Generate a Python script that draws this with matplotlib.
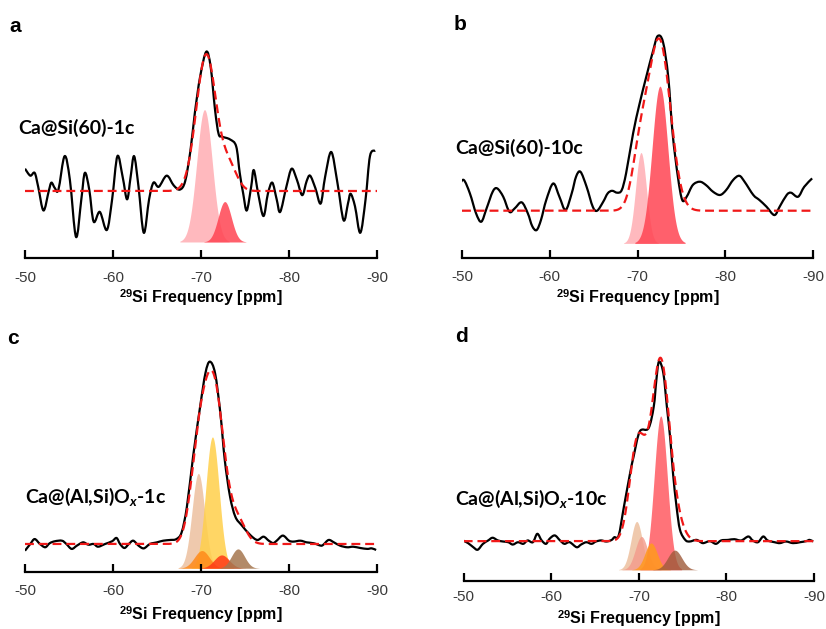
import numpy as np
import matplotlib
matplotlib.use("Agg")
import matplotlib.pyplot as plt
from matplotlib.path import Path
from matplotlib.patches import PathPatch

plt.rcParams['mathtext.fontset'] = 'custom'
plt.rcParams['mathtext.rm'] = 'Liberation Sans:bold'
plt.rcParams['mathtext.it'] = 'Lato:italic:bold'
plt.rcParams['mathtext.bf'] = 'Liberation Sans:bold'

# ---------------- data (ppm, intensity in a.u.) ----------------
ppm_a = [-50.0, -50.6, -51.1, -51.5, -52.1, -52.7, -53.0, -53.4, -53.8, -54.5, -55.1, -55.8, -56.4,
         -56.8, -57.3, -57.8, -58.5, -59.3, -59.9, -60.5, -61.1, -61.6, -62.0, -62.4, -62.9, -63.5,
         -64.1, -64.6, -65.2, -66.1, -66.9, -67.6, -68.2, -68.8, -69.3, -69.9, -70.6, -71.1, -71.6,
         -72.0, -72.4, -73.3, -74.0, -74.4, -74.8, -75.2, -75.7, -76.0, -76.5, -77.1, -77.6, -78.1,
         -78.6, -79.0, -79.7, -80.3, -80.9, -81.5, -82.0, -82.4, -83.0, -83.6, -84.1, -84.8, -85.5,
         -86.2, -86.7, -87.0, -87.5, -88.1, -88.7, -89.2, -89.8]
int_a = [16, 11, 13, 3, -14, 0, 6, 2, 1, 25, 8, -33, -6, 13, 1, -22, -15, -28, -6, 25, 10, -6, 10,
         25, 3, -30, -6, 6, 3, 11, 4, 1, 7, 29, 56, 82, 100, 89, 58, 41, 39, 37, 32, 13, -2, -14, 3,
         15, -2, -18, -2, 6, -6, -15, 3, 16, 8, -3, 7, 11, 2, -9, 10, 28, 6, -21, -9, -2, -11, -30,
         -6, 25, 29]

ppm_b = [-49.7, -50.2, -50.9, -51.6, -52.2, -52.8, -53.5, -54.0, -54.7, -55.4, -56.0, -56.8, -57.5,
         -58.0, -58.5, -59.0, -59.6, -60.4, -61.1, -61.8, -62.5, -63.0, -63.5, -64.2, -64.9, -65.4,
         -66.1, -66.6, -67.1, -67.7, -68.2, -68.7, -69.5, -70.2, -71.0, -71.8, -72.3, -72.9, -73.5,
         -74.0, -74.6, -75.1, -75.6, -76.3, -77.1, -77.8, -78.6, -79.4, -80.1, -80.9, -81.6, -82.2,
         -83.2, -83.9, -84.7, -85.6, -86.2, -87.0, -87.5, -88.3, -89.0, -89.9]
int_b = [14.7, 17.6, 9.9, -1.5, -6.3, 1.3, 10.9, 12.8, 8.0, -0.6, 1.3, 4.8, -1.5, -8.8, -11.1, -5.3,
         6.1, 15.6, 8.0, 0.4, 9.9, 19.5, 22.3, 13.7, 2.3, 0.0, 5.2, 9.9, 11.4, 10.3, 11.8, 21.4, 44.3,
         60.5, 76.7, 92.0, 100.0, 96.7, 76.7, 44.3, 19.5, 6.1, 8.0, 14.7, 16.6, 14.7, 10.9, 9.0, 11.8,
         17.6, 20.0, 16.6, 9.0, 6.1, 2.3, -2.5, 2.3, 9.0, 10.3, 8.0, 13.7, 18.5]

ppm_c = [-50.0, -50.6, -51.1, -51.7, -52.3, -52.8, -53.4, -54.2, -54.7, -55.3, -55.9, -56.6, -57.2,
         -57.8, -58.3, -59.1, -59.9, -60.4, -60.8, -61.3, -61.8, -62.3, -62.9, -63.5, -64.2, -65.0,
         -65.7, -66.5, -67.2, -67.8, -68.4, -69.1, -69.9, -70.5, -71.0, -71.6, -72.2, -72.7, -73.3,
         -73.9, -74.6, -75.6, -76.4, -77.1, -77.7, -78.2, -78.6, -79.3, -80.0, -80.5, -81.3, -82.0,
         -82.8, -83.6, -83.9, -84.5, -85.1, -85.8, -86.6, -87.3, -88.1, -88.9, -89.4, -89.9]
int_c = [-3.7, 0.0, 2.7, 0.0, -1.8, 0.4, 1.5, 1.8, 0.0, -2.7, -0.9, 0.9, -0.4, 0.0, -1.5, 0.0, 1.5,
         3.3, 0.0, -2.2, 0.0, 1.8, -0.9, -2.4, 0.0, 0.9, 1.8, 2.2, 2.7, 6.4, 20.5, 47.9, 75.3, 93.6,
         100.0, 93.6, 71.7, 46.1, 26.0, 15.0, 10.4, 4.9, 2.2, 4.0, 1.8, 0.5, 1.8, 4.6, 1.8, 1.3, 1.8,
         0.9, 0.4, -0.9, -0.4, 2.2, 0.9, -0.9, -1.8, -1.5, -2.2, -2.7, -2.4, -3.3]

ppm_d = [-49.9, -50.5, -51.1, -51.6, -52.2, -52.8, -53.3, -53.9, -54.5, -55.1, -55.6, -56.2, -56.8,
         -57.3, -57.9, -58.4, -58.9, -59.4, -59.8, -60.4, -61.0, -61.5, -62.1, -62.9, -63.4, -64.0,
         -64.6, -65.1, -65.7, -66.3, -66.9, -67.2, -67.7, -68.3, -69.0, -69.4, -70.1, -71.1, -71.7,
         -72.0, -72.3, -72.8, -73.2, -73.6, -73.9, -74.3, -74.7, -75.3, -75.8, -76.6, -77.3, -78.1,
         -78.8, -79.4, -80.2, -80.9, -81.7, -82.5, -83.0, -83.6, -84.2, -84.7, -85.5, -86.1, -86.8,
         -87.6, -88.4, -89.1, -89.5, -89.9]
int_d = [0.4, -1.1, -3.4, -4.8, -1.5, 0.4, 1.9, 0.4, -0.2, -0.6, -1.9, -0.6, -1.5, 0.4, -0.6, 4.1,
         0.4, -1.5, 1.3, 3.2, 0.4, -1.5, -0.6, -3.4, -1.9, -0.6, -1.5, -0.2, 0.4, -0.2, 0.7, 2.2, 3.2,
         19.4, 38.0, 47.3, 61.3, 63.1, 75.2, 90.1, 100.4, 93.8, 75.2, 56.6, 38.0, 19.4, 6.3, 0.7, -0.2,
         0.7, -1.1, 0.0, -1.5, 0.4, 0.7, 1.1, 0.4, 2.6, 0.4, -0.6, 2.6, 0.4, -0.6, -1.1, -0.2, -1.1,
         -0.6, 0.0, 0.7, -0.2]

# fitted Gaussian components (dashed fit = sum): centre [ppm], height, sigma [ppm]
fit_center_a = [-70.6, -73.2]
fit_height_a = [98, 17]
fit_sigma_a = [1.13, 0.9]
fit_center_b = [-70.3, -72.5]
fit_height_b = [30, 97]
fit_sigma_b = [0.9, 1.25]
fit_center_c = [-69.6, -71.4, -70.2, -72.4, -74.2]
fit_height_c = [35, 80, 10, 8, 12]
fit_sigma_c = [0.9, 1.1, 0.9, 1.0, 0.9]
fit_center_d = [-69.6, -70.4, -71.3, -72.5, -74.1]
fit_height_d = [40, 22, 10, 96, 12]
fit_sigma_d = [0.8, 0.8, 0.8, 0.95, 0.9]

# shaded deconvolution peaks (drawn below the spectrum)
comp_center_a = [-70.4, -72.7]
comp_height_a = [95, 29]
comp_sigma_a = [0.88, 0.75]
comp_center_b = [-70.4, -72.56]
comp_height_b = [52, 90]
comp_sigma_b = [0.62, 0.9]
comp_center_c = [-69.7, -71.3, -70.1, -72.35, -74.2]
comp_height_c = [52, 72, 9.7, 7.3, 10.6]
comp_sigma_c = [0.72, 0.76, 0.85, 0.85, 0.75]
comp_center_d = [-69.75, -70.3, -72.5, -71.4, -74.1]
comp_height_d = [27, 18.6, 86, 15, 11]
comp_sigma_d = [0.65, 0.7, 0.75, 0.7, 0.8]

labels = ["Ca@Si(60)-1c", "Ca@Si(60)-10c", "Ca@(Al,Si)O$_{x}$-1c", "Ca@(Al,Si)O$_{x}$-10c"]
letters = ["a", "b", "c", "d"]
xticks = [-50, -60, -70, -80, -90]

# ---------------- styling ----------------
W, H = 826, 629
fig = plt.figure(figsize=(W / 100, H / 100), dpi=100)

def fx(x):
    return x / W

def fy(y):
    return 1 - y / H

panels = [
    dict(ppm=ppm_a, inten=int_a, fc=fit_center_a, fh=fit_height_a, fs=fit_sigma_a,
         cc=comp_center_a, ch=comp_height_a, cs=comp_sigma_a, off=-36.6,
         colors=['#FFB6BB', '#FF4452'], alphas=[0.95, 0.85],
         rect=[25, 258, 352, 28], ylim=(-48.1, 117.0), xlab_dy=40, pad=9),
    dict(ppm=ppm_b, inten=int_b, fc=fit_center_b, fh=fit_height_b, fs=fit_sigma_b,
         cc=comp_center_b, ch=comp_height_b, cs=comp_sigma_b, off=-18.7,
         colors=['#FFB6BB', '#FF4452'], alphas=[0.95, 0.85],
         rect=[462, 257.7, 351, 28], ylim=(-26.9, 104.6), xlab_dy=40, pad=9),
    dict(ppm=ppm_c, inten=int_c, fc=fit_center_c, fh=fit_height_c, fs=fit_sigma_c,
         cc=comp_center_c, ch=comp_height_c, cs=comp_sigma_c, off=-13.3,
         colors=['#EEC4A4', '#FFCF4A', '#FF8A1A', '#FF3A16', '#A5764E'],
         alphas=[0.9, 0.85, 0.85, 0.85, 0.85],
         rect=[25, 571.7, 352, 335], ylim=(-15.2, 114.6), xlab_dy=43, pad=9),
    dict(ppm=ppm_d, inten=int_d, fc=fit_center_d, fh=fit_height_d, fs=fit_sigma_d,
         cc=comp_center_d, ch=comp_height_d, cs=comp_sigma_d, off=-16.0,
         colors=['#EEC4A4', '#F39A8A', '#FF5A62', '#FF9A1E', '#9E5A3A'],
         alphas=[0.9, 0.8, 0.85, 0.85, 0.8],
         rect=[463.7, 580.5, 350.3, 335], ylim=(-22.0, 115.25), xlab_dy=38, pad=7),
]

xgrid = np.linspace(-50, -90, 1601)

def gauss(x, c, h, s):
    return h * np.exp(-(x - c) ** 2 / (2 * s ** 2))

def smooth_path(x, y):
    """Smooth Bezier path passing through the measured points (drawing only)."""
    x = np.asarray(x, float)
    y = np.asarray(y, float)
    n = len(x)
    verts = [(x[0], y[0])]
    codes = [Path.MOVETO]
    for i in range(n - 1):
        j0 = max(i - 1, 0)
        j3 = min(i + 2, n - 1)
        c1 = (x[i] + (x[i + 1] - x[j0]) / 6.0, y[i] + (y[i + 1] - y[j0]) / 6.0)
        c2 = (x[i + 1] - (x[j3] - x[i]) / 6.0, y[i + 1] - (y[j3] - y[i]) / 6.0)
        verts += [c1, c2, (x[i + 1], y[i + 1])]
        codes += [Path.CURVE4] * 3
    return Path(verts, codes)

for i, p in enumerate(panels):
    left, bot, width, top = p['rect']
    ax = fig.add_axes([fx(left), fy(bot), fx(width), (bot - top) / H])
    ax.set_xlim(-50, -90)
    ax.set_ylim(*p['ylim'])

    # shaded components
    for k, (c, h, s) in enumerate(zip(p['cc'], p['ch'], p['cs'])):
        xs = xgrid[np.abs(xgrid - c) <= 3.2 * s]
        ys = gauss(xs, c, h, s)
        ax.fill_between(xs, p['off'], p['off'] + ys, color=p['colors'][k],
                        alpha=p['alphas'][k], lw=0, zorder=1 + k * 0.1)

    # spectrum (smooth curve through the read points)
    ax.add_patch(PathPatch(smooth_path(p['ppm'], p['inten']), fill=False,
                           edgecolor='black', lw=1.6, zorder=3, joinstyle='round'))
    # fit
    fit = np.zeros_like(xgrid)
    for c, h, s in zip(p['fc'], p['fh'], p['fs']):
        fit += gauss(xgrid, c, h, s)
    ax.plot(xgrid, fit, color='#F01818', lw=1.6, ls=(0, (4, 2.2)), zorder=4)

    for sp in ['left', 'right', 'top']:
        ax.spines[sp].set_visible(False)
    ax.spines['bottom'].set_linewidth(1.6)
    ax.set_yticks([])
    ax.set_xticks(xticks)
    ax.set_xticklabels([str(t) for t in xticks], family='Liberation Sans', fontsize=11,
                       color='#3a3a3a')
    ax.tick_params(axis='x', direction='in', length=6, width=1.6, pad=p['pad'])
    ax.patch.set_alpha(0)

    fig.text(fx(left + width / 2), fy(bot + p['xlab_dy']), r'$^{29}$Si Frequency [ppm]',
             ha='center', va='center', fontsize=11.5, fontweight='bold',
             family='Liberation Sans')

# panel letters
letter_pos = [(15, 27), (460, 25), (13, 338), (461, 336)]
for let, (x, y) in zip(letters, letter_pos):
    fig.text(fx(x), fy(y), let, ha='center', va='center', fontsize=15, fontweight='bold',
             family='Liberation Sans')

# sample labels
lab_pos = [(18, 128), (455, 148), (25, 497), (455, 499)]
for lab, (x, y) in zip(labels, lab_pos):
    fig.text(fx(x), fy(y), lab, ha='left', va='center', fontsize=14, fontweight='bold',
             family='Lato')

fig.savefig('out.png', dpi=100)
